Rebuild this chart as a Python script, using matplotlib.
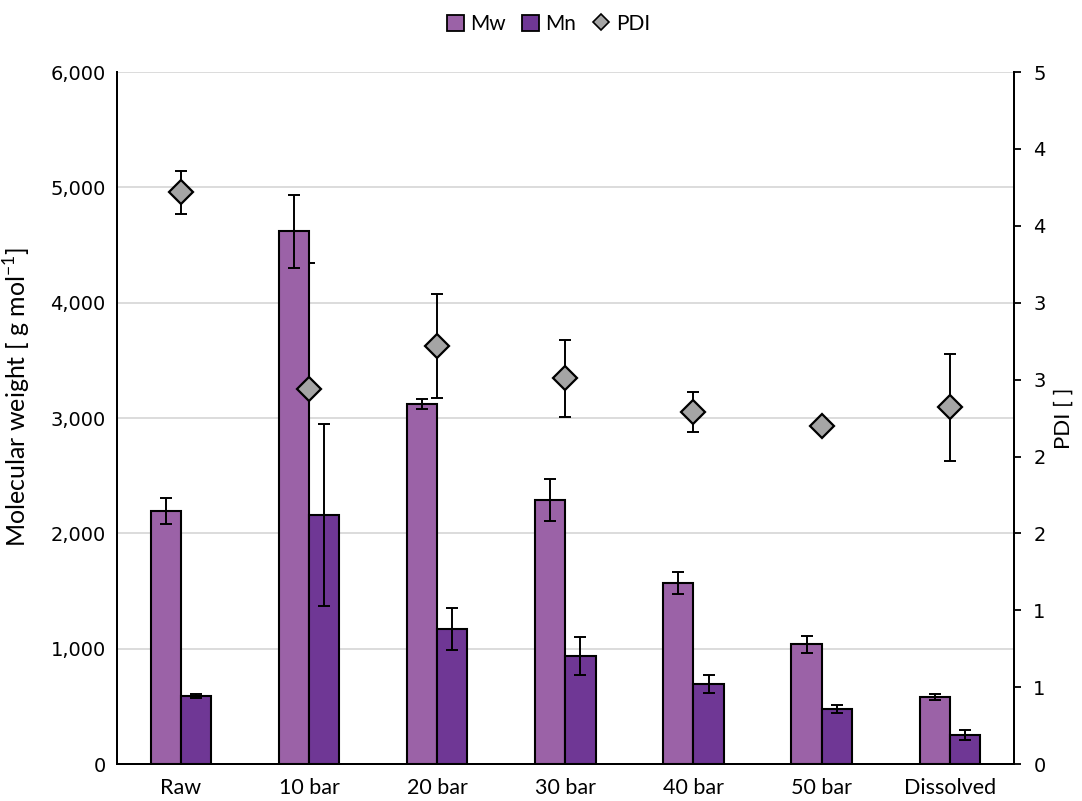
import numpy as np
import matplotlib
matplotlib.use("Agg")
import matplotlib.pyplot as plt
from matplotlib.patches import Patch
from matplotlib.lines import Line2D
from matplotlib.ticker import FuncFormatter, MultipleLocator

# molecular weight data per sample
samples = ["Raw", "10 bar", "20 bar", "30 bar", "40 bar", "50 bar", "Dissolved"]
mw = [2195, 4620, 3120, 2290, 1570, 1040, 580]
mw_err = [110, 315, 43, 180, 95, 75, 25]
mn = [590, 2160, 1170, 937, 694, 477, 252]
mn_err = [20, 790, 180, 165, 75, 35, 40]
pdi = [3.72, 2.44, 2.72, 2.51, 2.29, 2.20, 2.32]
pdi_err = [0.14, 0.82, 0.34, 0.25, 0.13, 0.03, 0.35]

c_mw = "#9B62A7"
c_mn = "#6F3795"
c_pdi = "#A5A5A5"
txt_font = ["Lato", "DejaVu Sans"]

fig = plt.figure(figsize=(10.82, 8.01), dpi=100)
ax1 = fig.add_axes([0.108, 0.046, 0.829, 0.864])
ax2 = ax1.twinx()

x = np.arange(len(samples))
w = 0.236

ax1.set_axisbelow(True)
ax1.grid(axis="y", color="#D9D9D9", lw=1.3)
ax1.bar(x - w / 2, mw, w, color=c_mw, edgecolor="black", lw=1.5, zorder=3)
ax1.bar(x + w / 2, mn, w, color=c_mn, edgecolor="black", lw=1.5, zorder=3)
ax1.errorbar(x - w / 2, mw, yerr=mw_err, fmt="none", ecolor="black",
             elinewidth=1.4, capsize=4, capthick=1.4, zorder=4)
ax1.errorbar(x + w / 2, mn, yerr=mn_err, fmt="none", ecolor="black",
             elinewidth=1.4, capsize=4, capthick=1.4, zorder=4)

ax1.set_xlim(-0.5, len(samples) - 0.5)
ax1.set_ylim(0, 6000)
ax2.set_ylim(0, 4.5)

# PDI whiskers sit under the bars, diamonds on top
ax1.errorbar(x, pdi, yerr=pdi_err, fmt="none", ecolor="black",
             elinewidth=1.4, capsize=4, capthick=1.4, zorder=2,
             transform=ax2.transData)
ax2.plot(x, pdi, "D", ms=12.5, mfc=c_pdi, mec="black", mew=1.6, zorder=5)

ax1.yaxis.set_major_locator(MultipleLocator(1000))
ax1.yaxis.set_major_formatter(FuncFormatter(lambda v, p: f"{int(v):,}"))
ax1.set_xticks(x)
ax1.set_xticklabels(samples, fontsize=15.5, family=txt_font)
ax1.tick_params(axis="x", length=0, pad=10)
ax1.tick_params(axis="y", length=0, pad=8, labelsize=14, labelfontfamily="DejaVu Sans")

ax2.yaxis.set_major_locator(MultipleLocator(0.5))
ax2.yaxis.set_major_formatter(FuncFormatter(lambda v, p: str(int(np.floor(v + 0.5)))))
ax2.tick_params(axis="y", length=5, width=1.3, pad=9, labelsize=14, labelfontfamily="DejaVu Sans")

for ax in (ax1, ax2):
    ax.spines["top"].set_visible(False)
    for s in ("left", "right", "bottom"):
        ax.spines[s].set_linewidth(1.4)

ax1.set_ylabel("Molecular weight [ g mol$^{\\mathregular{-1}}$]", fontsize=18,
               family=txt_font)
ax1.yaxis.set_label_coords(-0.093, 0.53)
ax2.set_ylabel("PDI [ ]", fontsize=16, family=txt_font, labelpad=6)

handles = [Patch(facecolor=c_mw, edgecolor="black", lw=1.3),
           Patch(facecolor=c_mn, edgecolor="black", lw=1.3),
           Line2D([], [], ls="none", marker="D", ms=8, mfc=c_pdi, mec="black", mew=1.2)]
fig.legend(handles, ["Mw", "Mn", "PDI"], loc="upper center", bbox_to_anchor=(0.507, 1.006),
           ncol=3, frameon=False, handlelength=0.8, handleheight=0.8, handletextpad=0.3,
           columnspacing=0.8, prop={"family": txt_font, "size": 15})

fig.savefig("out.png", dpi=100)
